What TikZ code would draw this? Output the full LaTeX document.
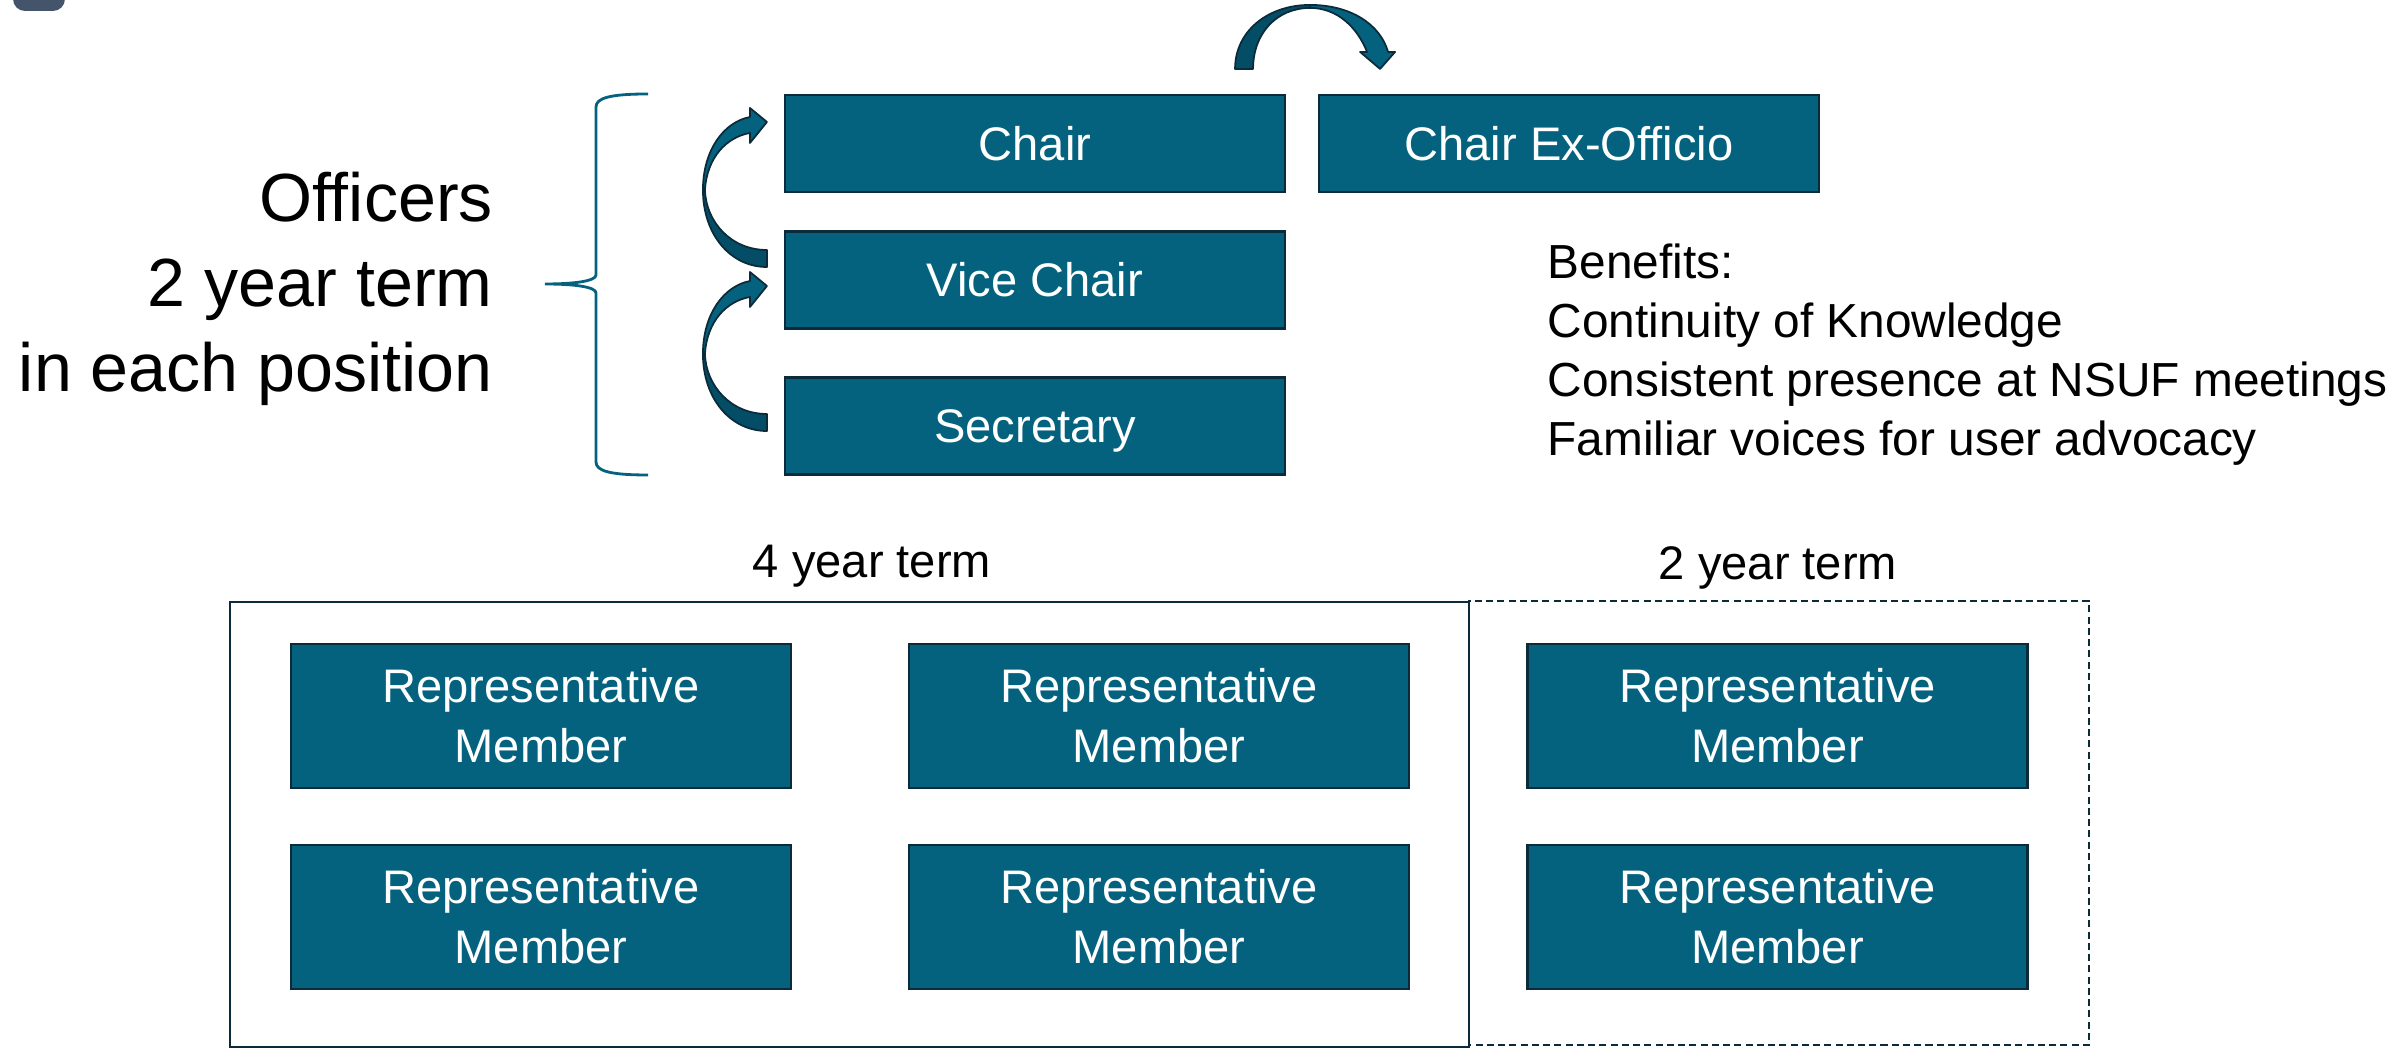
\documentclass[tikz,border=0pt]{standalone}
\usepackage{fontspec}
\setmainfont{Liberation Sans}
\usetikzlibrary{calc}
\definecolor{boxfill}{RGB}{4,98,126}
\definecolor{boxline}{RGB}{12,43,58}
\definecolor{arrowdark}{RGB}{3,78,102}
\definecolor{slate}{RGB}{68,84,106}
\newcommand\boxfont{\fontsize{13.4}{17.1}\selectfont}
% bent block arrow, tail at the origin, going up on the left
\newcommand\upturn[1]{%
  \begin{scope}[shift={#1}]
    \filldraw[bent, fill=arrowdark] (0,0) .. controls (-0.37,0) and (-0.64,0.33) .. (-0.64,0.77) -- (-0.62,0.77) .. controls (-0.61,0.45) and (-0.36,0.17) .. (0,0.17) -- cycle;
    \filldraw[bent, fill=boxfill] (-0.64,0.77) .. controls (-0.64,1.17) and (-0.43,1.45) .. (-0.17,1.50) -- (-0.17,1.59) -- (0,1.45) -- (-0.17,1.24) -- (-0.17,1.34) .. controls (-0.40,1.30) and (-0.60,1.10) .. (-0.62,0.77) -- cycle;
  \end{scope}}
% bent block arrow over the top, tail at the origin
\newcommand\overturn[1]{%
  \begin{scope}[shift={#1}]
    \filldraw[bent, fill=arrowdark] (0,0) .. controls (0,0.38) and (0.33,0.64) .. (0.75,0.64) -- (0.75,0.61) .. controls (0.42,0.61) and (0.18,0.36) .. (0.18,0) -- cycle;
    \filldraw[bent, fill=boxfill] (0.75,0.64) .. controls (1.15,0.64) and (1.45,0.45) .. (1.53,0.17) -- (1.60,0.17) -- (1.45,0) -- (1.25,0.17) -- (1.32,0.17) .. controls (1.22,0.42) and (1.02,0.61) .. (0.75,0.61) -- cycle;
  \end{scope}}

\tikzset{
  office/.style={draw=boxline, fill=boxfill, line width=0.6pt, minimum width=5cm, minimum height=0.97cm, inner sep=0pt, text=white, font=\boxfont, text height=9.6pt, text depth=0pt},
  rep/.style={draw=boxline, fill=boxfill, line width=0.6pt, minimum width=5cm, minimum height=1.44cm, inner sep=0pt, text=white, align=center, font=\boxfont},
  bent/.style={draw=boxline, line width=0.5pt, line join=round},
  frame/.style={draw=boxline, line width=0.6pt},
}

\begin{document}
\begin{tikzpicture}
\useasboundingbox (0,0) rectangle (24.07,10.51);
\fill[slate, rounded corners=0.12cm] (0.13,10.80) rectangle (0.65,10.40);

% officers
\node[office] (chair) at (10.35,9.075) {Chair};
\node[office] (vice) at (10.35,7.71) {Vice Chair};
\node[office] (secretary) at (10.35,6.25) {Secretary};
\node[office] (exofficio) at (15.69,9.075) {Chair Ex-Officio};

\node[anchor=north east, align=right, inner sep=0pt, font=\fontsize{19.4}{24.2}\selectfont] (officers) at (4.935,8.80) {Officers\\2 year term\\in each position};

\draw[boxfill, line width=0.8pt] (6.48,9.57) .. controls (6.10,9.57) and (5.96,9.53) .. (5.96,9.44) -- (5.96,7.76) .. controls (5.96,7.70) and (5.75,7.67) .. (5.45,7.67) .. controls (5.75,7.67) and (5.96,7.64) .. (5.96,7.58) -- (5.96,5.89) .. controls (5.96,5.80) and (6.10,5.76) .. (6.48,5.76);

\upturn{($(vice.west)+(-0.17,0.13)$)}
\upturn{($(secretary.west)+(-0.17,-0.05)$)}
\overturn{($(chair.north east)+(-0.51,0.25)$)}

\node[anchor=north west, align=left, inner sep=0pt, font=\fontsize{13.6}{16.8}\selectfont] (benefits) at (15.47,8.08) {Benefits:\\Continuity of Knowledge\\Consistent presence at NSUF meetings\\Familiar voices for user advocacy};

% members
\node[anchor=base, font=\boxfont] (fourterm) at (8.72,4.73) {4 year term};
\node[anchor=base, font=\boxfont] (twoterm) at (17.78,4.71) {2 year term};
\draw[frame, dash pattern=on 2pt off 1.2pt] (14.69,0.06) rectangle (20.89,4.50);
\draw[frame] (2.30,0.04) rectangle (14.69,4.49);

\node[rep] (rep1) at (5.41,3.35) {Representative\\Member};
\node[rep] (rep2) at (11.59,3.35) {Representative\\Member};
\node[rep] (rep3) at (5.41,1.34) {Representative\\Member};
\node[rep] (rep4) at (11.59,1.34) {Representative\\Member};
\node[rep] (rep5) at (17.775,3.35) {Representative\\Member};
\node[rep] (rep6) at (17.775,1.34) {Representative\\Member};
\end{tikzpicture}
\end{document}
